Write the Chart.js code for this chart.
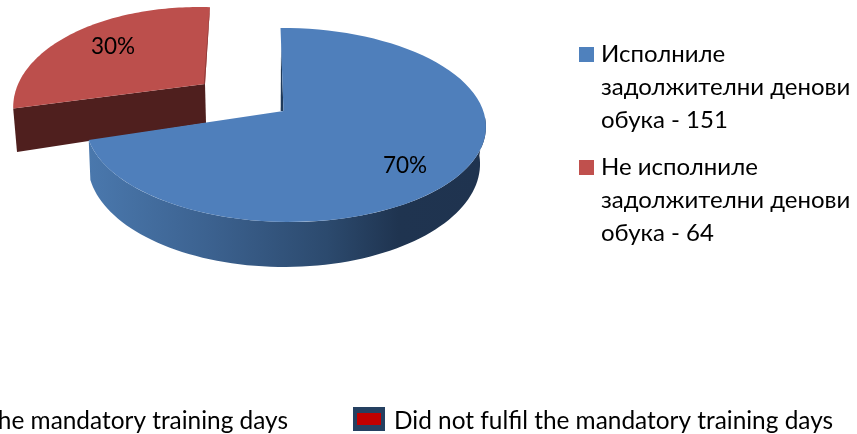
<!DOCTYPE html>
<html>
<head>
<meta charset="utf-8">
<script src="https://cdn.jsdelivr.net/npm/chart.js@4"></script>
<style>
    html, body { margin: 0; padding: 0; background: #fff; overflow: hidden; }
    #wrap { width: 857px; height: 434px; }
</style>
</head>
<body>
<div id="wrap"><canvas id="pie"></canvas></div>
<script>
// данни от диаграмата
const categories = ['Исполниле задолжителни денови обука', 'Не исполниле задолжителни денови обука'];
const counts = [151, 64];
const legendLines = [
    ['Исполниле', 'задолжителни денови', 'обука - 151'],
    ['Не исполниле', 'задолжителни денови', 'обука - 64']
];
const footerLabels = ['the mandatory training days', 'Did not fulfil the mandatory training days'];

const sliceColors = ['#4f81bd', '#c0504d'];
const FONT = 'Lato, "Open Sans", sans-serif';

// перспектива на диска: за всеки сектор горна и долна равнина
const planes = [
    {
        top: { x: 283.5, y: 111, a: 198, b: 95, k: 0.144, m: 0.009, sh: 0.036, ty: 0 },
        bot: { x: 283, y: 149, a: 194, b: 101, k: 0.144, m: 0.005, sh: 0, ty: 0 }
    },
    {
        top: { x: 205, y: 84, a: 184, b: 96, k: 0.25, m: 0, sh: -0.065, ty: 5.8 },
        bot: { x: 206, y: 123, a: 181, b: 110, k: 0.25, m: 0, sh: -0.065, ty: 5.8 }
    }
];

function project(p, angle, r) {
    const u = Math.cos(angle) * r, v = Math.sin(angle) * r;
    const w = 1 - p.k * v - p.m * u;
    const y = p.b * v / w;
    return [p.x + p.a * u / w + p.sh * y, p.y + y + p.ty * u / w];
}

function rim(path, p, from, to) {
    const steps = 80;
    for (let i = 0; i <= steps; i++) {
        const pt = project(p, from + (to - from) * i / steps, 1);
        path.lineTo(pt[0], pt[1]);
    }
}

// 3D рисуване на секторите по ъглите, изчислени от Chart.js
const pie3d = {
    id: 'pie3d',
    beforeDatasetsDraw(chart) {
        const ctx = chart.ctx;
        const arcs = chart.getDatasetMeta(0).data;
        const blue = arcs[0], red = arcs[1];

        // червен сектор: прерязана стена
        const rp = planes[1];
        let a = project(rp.top, red.startAngle, 0), b = project(rp.top, red.startAngle, 1);
        let c = project(rp.bot, red.startAngle, 1), d = project(rp.bot, red.startAngle, 0);
        ctx.fillStyle = '#4f1f1e';
        ctx.beginPath();
        ctx.moveTo(a[0], a[1]); ctx.lineTo(b[0], b[1]); ctx.lineTo(c[0], c[1]); ctx.lineTo(d[0], d[1]);
        ctx.closePath();
        ctx.fill();

        // горна повърхност
        ctx.fillStyle = '#bc4f4c';
        ctx.beginPath();
        ctx.moveTo(a[0], a[1]);
        rim(ctx, rp.top, red.startAngle, red.endAngle);
        ctx.closePath();
        ctx.fill();

        // тънка стена при ъгъла горе
        const e1 = project(rp.top, red.endAngle, 1), e2 = project(rp.top, red.endAngle, 0);
        ctx.fillStyle = '#8f3b39';
        ctx.beginPath();
        ctx.moveTo(e1[0], e1[1]); ctx.lineTo(e2[0], e2[1]); ctx.lineTo(e2[0] - 1.2, e2[1]); ctx.lineTo(e1[0] - 0.8, e1[1] + 6);
        ctx.closePath();
        ctx.fill();

        // син сектор: стена с градиент
        const bp = planes[0];
        const wall = ctx.createLinearGradient(88, 0, 486, 0);
        wall.addColorStop(0, '#4a78ad');
        wall.addColorStop(0.3, '#3c6290');
        wall.addColorStop(0.6, '#2c4a6e');
        wall.addColorStop(0.78, '#1f3450');
        wall.addColorStop(1, '#1f334f');
        ctx.fillStyle = wall;
        const wallFrom = Math.PI * 0.02;
        ctx.beginPath();
        let s = project(bp.top, wallFrom, 1);
        ctx.moveTo(s[0], s[1]);
        rim(ctx, bp.top, wallFrom, blue.endAngle);
        rim(ctx, bp.bot, blue.endAngle, wallFrom);
        ctx.closePath();
        ctx.fill();

        // тъмна прерязана стена до върха
        const t0 = project(bp.top, blue.startAngle, 0), t1 = project(bp.top, blue.startAngle, 0.8);
        ctx.fillStyle = '#1f3a5a';
        ctx.beginPath();
        ctx.moveTo(t0[0], t0[1]); ctx.lineTo(t1[0], t1[1]); ctx.lineTo(t0[0] - 2.8, t0[1]);
        ctx.closePath();
        ctx.fill();

        // горна повърхност
        ctx.fillStyle = '#4f7fbb';
        ctx.beginPath();
        const o = project(bp.top, 0, 0);
        ctx.moveTo(o[0], o[1]);
        rim(ctx, bp.top, blue.startAngle, blue.endAngle);
        ctx.closePath();
        ctx.fill();

        return false;
    },
    afterDraw(chart) {
        const ctx = chart.ctx;
        const total = counts.reduce((x, y) => x + y, 0);
        ctx.save();
        ctx.fillStyle = '#000';
        ctx.textBaseline = 'alphabetic';

        // проценти
        ctx.font = '22.5px ' + FONT;
        ctx.textAlign = 'center';
        ctx.fillText(Math.round(counts[0] / total * 100) + '%', 405, 173);
        ctx.fillText(Math.round(counts[1] / total * 100) + '%', 113, 54);

        // легенда
        ctx.font = '24px ' + FONT;
        ctx.textAlign = 'left';
        const legendTop = [62, 175];
        legendLines.forEach((lines, i) => {
            ctx.fillStyle = sliceColors[i];
            ctx.fillRect(579, legendTop[i] - 15, 15, 15);
            ctx.fillStyle = '#000';
            lines.forEach((t, j) => ctx.fillText(t, 601, legendTop[i] + j * 33));
        });

        // долна легенда (отрязана вляво)
        ctx.font = '24.4px ' + FONT;
        ctx.textAlign = 'right';
        ctx.fillText(footerLabels[0], 288, 429);
        ctx.textAlign = 'left';
        ctx.fillText(footerLabels[1], 394, 429);
        ctx.fillStyle = '#254061';
        ctx.fillRect(353, 407, 32, 24);
        ctx.fillStyle = '#c00000';
        ctx.fillRect(357, 413, 24, 12);
        ctx.restore();
    }
};

new Chart(document.getElementById('pie'), {
    type: 'pie',
    data: {
        labels: categories,
        datasets: [{ data: counts, backgroundColor: sliceColors, borderWidth: 0 }]
    },
    options: {
        responsive: true,
        maintainAspectRatio: false,
        animation: false,
        plugins: { legend: { display: false }, tooltip: { enabled: false } }
    },
    plugins: [pie3d]
});
</script>
</body>
</html>
